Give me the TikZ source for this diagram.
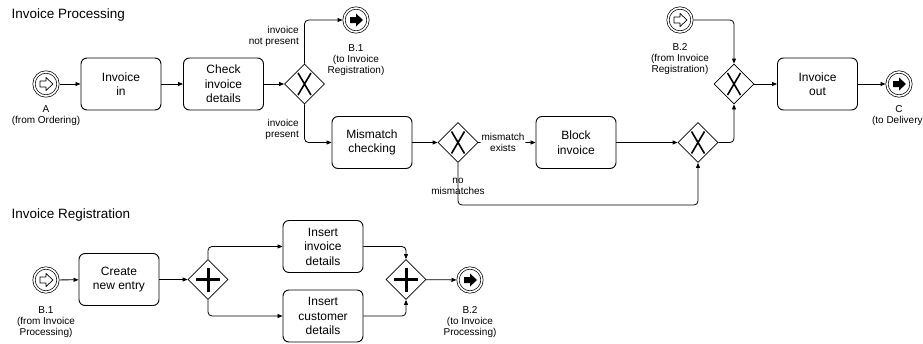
\documentclass[tikz,border=0pt]{standalone}
\usepackage{fontspec}
\setmainfont{Liberation Sans}
\usetikzlibrary{shapes.geometric,arrows.meta}

\begin{document}
\begin{tikzpicture}[x=1pt, y=-1pt, >={Triangle[length=5pt,width=4pt]},
    task/.style={draw, rounded corners=6pt, line width=0.9pt, minimum width=80pt,
        minimum height=52pt, align=center, font=\fontsize{12}{14.5}\selectfont},
    gate/.style={diamond, draw, line width=0.8pt, minimum size=40pt, inner sep=0pt},
    xgate/.style={gate, path picture={\draw[shift={(path picture bounding box.center)}, line width=1.6pt]
        (-6.5pt,-11pt) -- (6.5pt,11pt) (-6.5pt,11pt) -- (6.5pt,-11pt);}},
    plusgate/.style={gate, path picture={\draw[shift={(path picture bounding box.center)}, line width=3pt]
        (-12pt,0pt) -- (12pt,0pt) (0pt,-12pt) -- (0pt,12pt);}},
    event/.style={circle, draw, double, double distance=1.6pt, line width=0.7pt,
        minimum size=24pt, inner sep=0pt, outer sep=1.5pt},
    startev/.style={event, path picture={\draw[shift={(path picture bounding box.center)}, line width=0.7pt, line join=round]
        (-6pt,-3pt) -- (0pt,-3pt) -- (0pt,-6.5pt) -- (7pt,0pt) -- (0pt,6.5pt) -- (0pt,3pt) -- (-6pt,3pt) -- cycle;}},
    endev/.style={event, path picture={\fill[shift={(path picture bounding box.center)}]
        (-6pt,-3pt) -- (0pt,-3pt) -- (0pt,-6.5pt) -- (7pt,0pt) -- (0pt,6.5pt) -- (0pt,3pt) -- (-6pt,3pt) -- cycle;}},
    lbl/.style={font=\fontsize{10}{11}\selectfont, align=center, inner sep=1pt},
    pooltitle/.style={font=\fontsize{13.5}{15}\selectfont, anchor=base west, inner sep=0pt},
    flow/.style={->, line width=0.8pt, rounded corners=4pt}]
    \useasboundingbox (0,0) rectangle (923,343);

    % --- Invoice Processing ---
    \node[pooltitle] (ptitle) at (11.5,18.5) {Invoice Processing};

    \node[startev, label={[lbl, label distance=7pt]below:{A\\(from Ordering)}}] (evA) at (46,84) {};
    \node[task] (invin) at (121,84) {Invoice\\in};
    \node[task] (check) at (223.5,84) {Check\\invoice\\details};
    \node[xgate] (g1) at (304.5,84) {};
    \node[endev, label={[lbl, label distance=10pt]below:{B.1\\(to Invoice\\Registration)}}] (evB1) at (356,20) {};
    \node[task] (mismatch) at (372,142.5) {Mismatch\\checking};
    \node[xgate] (g2) at (458,142.5) {};
    \node[task] (block) at (576,142.5) {Block\\invoice};
    \node[xgate] (g3) at (698,142.5) {};
    \node[xgate] (g4) at (734,84) {};
    \node[startev, label={[lbl, label distance=8.5pt]below:{B.2\\(from Invoice\\Registration)}}] (evB2) at (680,20) {};
    \node[task] (invout) at (817.5,84) {Invoice\\out};
    \node[endev, label={[lbl, label distance=6.5pt]below:{C\\(to Delivery)}}] (evC) at (899,84) {};

    % labels of the split
    \node[lbl, anchor=east, align=right] (notpres) at (300,36) {invoice\\not present};
    \node[lbl, anchor=east, align=right] (pres) at (300,129) {invoice\\present};
    \node[lbl] (nomis) at (458,186.5) {no\\mismatches};
    \coordinate (loop) at (580,205);

    \draw[flow] (evA) -- (invin);
    \draw[flow] (invin) -- (check);
    \draw[flow] (check) -- (g1);
    \draw[flow] (g1.north) |- (evB1.west);
    \draw[flow] (g1.south) |- (mismatch.west);
    \draw[flow] (mismatch) -- (g2);
    \draw[flow] (g2) -- node[lbl, pos=0.43, fill=white] (misex) {mismatch\\exists} (block);
    \draw[flow] (g2.south) |- (loop) -| (g3.south);
    \draw[flow] (block) -- (g3);
    \draw[flow] (g3.east) -| (g4.south);
    \draw[flow] (evB2.east) -| (g4.north);
    \draw[flow] (g4) -- (invout);
    \draw[flow] (invout) -- (evC);

    % --- Invoice Registration ---
    \node[pooltitle] (rtitle) at (11.5,218.5) {Invoice Registration};

    \node[startev, label={[lbl, label distance=11.5pt]below:{B.1\\(from Invoice\\Processing)}}] (evB1r) at (46,280) {};
    \node[task] (create) at (119,279.5) {Create\\new entry};
    \node[plusgate] (a1) at (208,279.5) {};
    \node[task] (insinv) at (323,246.5) {Insert\\invoice\\details};
    \node[task] (inscust) at (323,316) {Insert\\customer\\details};
    \node[plusgate] (a2) at (406,279.5) {};
    \node[endev, label={[lbl, label distance=11.5pt]below:{B.2\\(to Invoice\\Processing)}}] (evB2r) at (470,280) {};

    \draw[flow] (evB1r) -- (create);
    \draw[flow] (create) -- (a1);
    \draw[flow] (a1.north) |- (insinv.west);
    \draw[flow] (a1.south) |- (inscust.west);
    \draw[flow] (insinv.east) -| (a2.north);
    \draw[flow] (inscust.east) -| (a2.south);
    \draw[flow] (a2) -- (evB2r);

\end{tikzpicture}
\end{document}
